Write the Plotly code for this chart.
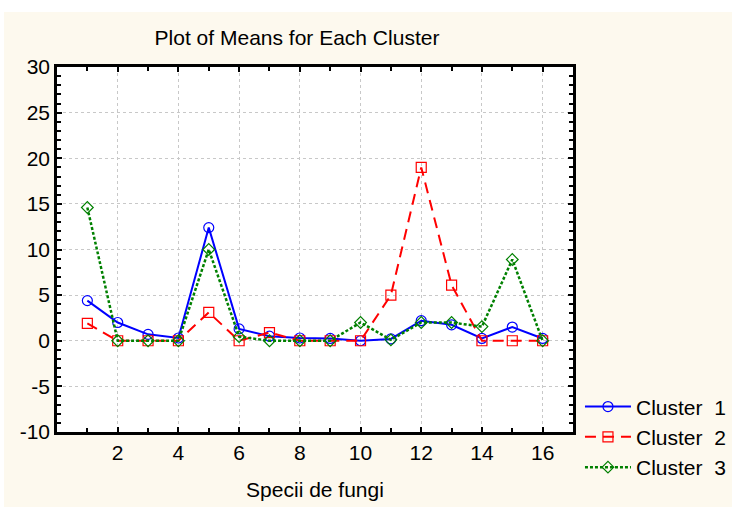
import plotly.graph_objects as go

# Mean values of each fungal species (1..16) per cluster
species = list(range(1, 17))
cluster1 = [4.4, 2.0, 0.7, 0.3, 12.4, 1.3, 0.5, 0.3, 0.25, 0.0, 0.2, 2.2, 1.75, 0.25, 1.5, 0.25]
cluster2 = [1.9, 0.0, 0.0, 0.0, 3.1, 0.0, 0.9, 0.0, 0.0, 0.0, 5.0, 19.0, 6.1, 0.0, 0.0, 0.0]
cluster3 = [14.6, 0.0, 0.0, 0.0, 10.0, 0.45, 0.0, 0.0, 0.0, 2.0, 0.1, 2.0, 2.0, 1.55, 8.9, 0.0]

x_ticks = [2, 4, 6, 8, 10, 12, 14, 16]
y_ticks = [-10, -5, 0, 5, 10, 15, 20, 25, 30]

FONT = "Liberation Sans, Arial, sans-serif"
FS = 21
CREAM = "#fdf9ee"

fig = go.Figure()
fig.add_trace(go.Scatter(
    x=species, y=cluster1, name="Cluster  1", mode="lines+markers",
    line=dict(color="#0000ff", width=2),
    marker=dict(symbol="circle-open", size=10, color="#0000ff", line=dict(width=1.2)),
))
fig.add_trace(go.Scatter(
    x=species, y=cluster2, name="Cluster  2", mode="lines+markers",
    line=dict(color="#ff0000", width=2, dash="11px,7px"),
    marker=dict(symbol="square-open", size=10, color="#ff0000", line=dict(width=1.2)),
))
fig.add_trace(go.Scatter(
    x=species, y=cluster3, name="Cluster  3", mode="lines+markers",
    line=dict(color="#008000", width=2.5, dash="3px,2px"),
    marker=dict(symbol="diamond-open", size=9, color="#008000", line=dict(width=1.2)),
))

axis_common = dict(
    showline=True, linecolor="black", linewidth=2.5, mirror="allticks",
    ticks="inside", ticklen=5, tickwidth=2, tickcolor="black",
    showgrid=True, gridcolor="#c8c8c8", griddash="dot", gridwidth=1,
    zeroline=False,
    tickfont=dict(family=FONT, size=FS, color="black"),
)

fig.update_xaxes(
    range=[0, 17], tickvals=x_ticks, ticktext=[str(v) for v in x_ticks],
    minor=dict(dtick=1, tick0=0, ticks="inside", ticklen=4, tickwidth=2,
               tickcolor="black", showgrid=False),
    title=dict(text="Specii de fungi", font=dict(family=FONT, size=FS, color="black"),
               standoff=20),
    **axis_common,
)
fig.update_yaxes(
    range=[-10, 30], tickvals=y_ticks, ticktext=[str(v) for v in y_ticks],
    minor=dict(dtick=1, tick0=0, ticks="inside", ticklen=4, tickwidth=2,
               tickcolor="black", showgrid=False),
    **axis_common,
)

# white strips along the top and left border of the figure
fig.add_shape(type="rect", xref="paper", yref="paper", x0=-0.2, x1=1.5,
              y0=(432 - 12) / 365, y1=1.3, fillcolor="white", line_width=0, layer="below")
fig.add_shape(type="rect", xref="paper", yref="paper", x0=-0.2, x1=(4 - 57) / 516,
              y0=-0.3, y1=1.3, fillcolor="white", line_width=0, layer="below")

fig.update_layout(
    width=732, height=507,
    margin=dict(l=57, r=159, t=67, b=75, autoexpand=False),
    paper_bgcolor=CREAM, plot_bgcolor="white",
    title=dict(text="Plot of Means for Each Cluster", x=(297 - 57) / 516, xref="paper",
               xanchor="center", y=1 - 38 / 507, yanchor="middle",
               font=dict(family=FONT, size=FS, color="black")),
    legend=dict(x=1.0135, xanchor="left", y=0.125, yanchor="top",
                bgcolor="rgba(0,0,0,0)", font=dict(family=FONT, size=FS, color="black"),
                tracegroupgap=0, itemwidth=46),
    showlegend=True,
)

fig.write_html("out.html")
